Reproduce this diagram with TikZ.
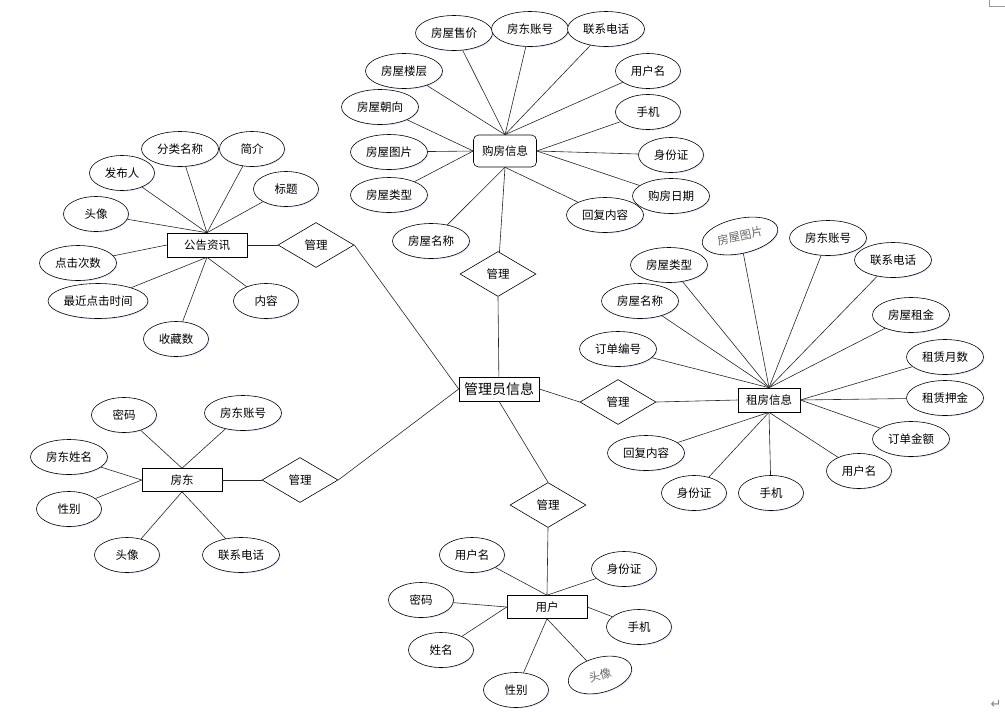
\documentclass[tikz,border=0pt]{standalone}
\usepackage{fontspec}
\setmainfont{Noto Sans CJK SC}
\newfontfamily\symfont{DejaVu Sans}
\usetikzlibrary{shapes.geometric,shadows}
\begin{document}
\begin{tikzpicture}[x=1pt,y=-1pt,
    line width=0.6pt,
    every node/.style={font=\fontsize{11.5}{13}\selectfont},
    attr/.style={ellipse,draw,fill=white,inner sep=0pt,minimum width=65pt,minimum height=35pt,
      drop shadow={shadow xshift=1pt,shadow yshift=-1pt,fill=blue!30,opacity=.35}},
    attrw/.style={attr,minimum width=77pt},
    entity/.style={rectangle,draw,fill=white,inner sep=0pt,minimum width=80pt,minimum height=24pt},
    relation/.style={diamond,draw,fill=white,inner sep=0pt,minimum width=76pt,minimum height=45pt}]
  \useasboundingbox (0,0) rectangle (1005,716);
  \draw
    (499,389) node[entity,font=\fontsize{14}{16}\selectfont] (gly){管理员信息}
    (505,151) node[entity,rounded corners=5pt,minimum width=63pt,minimum height=32pt] (gf){购房信息}
    (769,400) node[entity,minimum width=62pt] (zf){租房信息}
    (207,245) node[entity] (gg){公告资讯}
    (182,480) node[entity,minimum height=23pt] (fd){房东}
    (547,607) node[entity,minimum height=23pt] (yh){用户}
    (498,274) node[relation] (gfgl){管理}
    (618,402) node[relation] (zfgl){管理}
    (316,245) node[relation] (gggl){管理}
    (300,480) node[relation] (fdgl){管理}
    (548,505) node[relation] (yhgl){管理};
  \draw
    (454,33) node[attrw] (gf1){房屋售价}
    (530,29) node[attrw] (gf2){房东账号}
    (606,29) node[attrw] (gf3){联系电话}
    (404,71) node[attrw] (gf4){房屋楼层}
    (380,107) node[attrw] (gf5){房屋朝向}
    (389,152) node[attrw] (gf6){房屋图片}
    (389,195) node[attrw] (gf7){房屋类型}
    (431,241) node[attrw] (gf8){房屋名称}
    (605,215) node[attrw] (gf9){回复内容}
    (671,196) node[attrw] (gf10){购房日期}
    (671,155) node[attr] (gf11){身份证}
    (648,112) node[attr] (gf12){手机}
    (648,71) node[attr] (gf13){用户名};
  \draw
    (740,236) node[attrw,rotate=12,text=black!60] (zf1){房屋图片}
    (828,238) node[attrw] (zf2){房东账号}
    (893,260) node[attrw] (zf3){联系电话}
    (669,265) node[attrw] (zf4){房屋类型}
    (640,301) node[attrw] (zf5){房屋名称}
    (911,315) node[attrw] (zf6){房屋租金}
    (618,349) node[attrw] (zf7){订单编号}
    (945,357) node[attrw] (zf8){租赁月数}
    (945,398) node[attrw] (zf9){租赁押金}
    (911,439) node[attrw] (zf10){订单金额}
    (859,471) node[attr] (zf11){用户名}
    (771,493) node[attr] (zf12){手机}
    (694,493) node[attr] (zf13){身份证}
    (646,453) node[attrw] (zf14){回复内容};
  \draw
    (180,149) node[attrw] (gg1){分类名称}
    (252,149) node[attr] (gg2){简介}
    (122,173) node[attr] (gg3){发布人}
    (286,189) node[attr] (gg4){标题}
    (96,214) node[attr] (gg5){头像}
    (78,263) node[attrw] (gg6){点击次数}
    (98,301) node[attr,minimum width=100pt] (gg7){最近点击时间}
    (176,339) node[attr] (gg8){收藏数}
    (266,301) node[attr] (gg9){内容};
  \draw
    (124,415) node[attr] (fd1){密码}
    (243,413) node[attrw] (fd2){房东账号}
    (69,457) node[attrw] (fd3){房东姓名}
    (69,509) node[attr] (fd4){性别}
    (127,555) node[attr] (fd5){头像}
    (241,555) node[attrw] (fd6){联系电话};
  \draw
    (472,555) node[attr] (yh1){用户名}
    (624,569) node[attr] (yh2){身份证}
    (421,600) node[attr] (yh3){密码}
    (441,650) node[attr] (yh4){姓名}
    (639,627) node[attr] (yh5){手机}
    (516,690) node[attr] (yh6){性别}
    (600,675) node[attr,rotate=15,text=black!60] (yh7){头像};
  \begin{scope}[-,black!85]
    \draw (gly) to (gfgl.south);
    \draw (gfgl) to (gf.south);
    \draw (gly.east) to (zfgl.west);
    \draw (zfgl.east) to (zf.west);
    \draw (gly.west) to (gggl.east);
    \draw (gggl.west) to (gg.east);
    \draw (gly.west) to (fdgl.east);
    \draw (fdgl.west) to (fd.east);
    \draw (gly.south) to (yhgl.north);
    \draw (yhgl.south) to (yh.north);
    \draw (gf1) to (gf.north);
    \draw (gf2) to (gf.north);
    \draw (gf3) to (gf.north);
    \draw (gf4) to (gf.north);
    \draw (gf13) to (gf.north);
    \draw (gf5) to (gf.west);
    \draw (gf6) to (gf.west);
    \draw (gf7) to (gf.west);
    \draw (gf8) to (gf.south);
    \draw (gf9) to (gf.south);
    \draw (gf10) to (gf.east);
    \draw (gf11) to (gf.east);
    \draw (gf12) to (gf.east);
    \draw (zf1) to (zf.north);
    \draw (zf2) to (zf.north);
    \draw (zf3) to (zf.north);
    \draw (zf4) to (zf.north);
    \draw (zf5) to (zf.north);
    \draw (zf6) to (zf.north);
    \draw (zf7) to (zf.north);
    \draw (zf8) to (zf.east);
    \draw (zf9) to (zf.east);
    \draw (zf10) to (zf.east);
    \draw (zf11) to (zf.south);
    \draw (zf12) to (zf.south);
    \draw (zf13) to (zf.south);
    \draw (zf14) to (zf.south);
    \draw (gg1) to (gg.north);
    \draw (gg2) to (gg.north);
    \draw (gg3) to (gg.north);
    \draw (gg4) to (gg.north);
    \draw (gg5) to (gg.north);
    \draw (gg6) to (gg.west);
    \draw (gg7) to (gg.south);
    \draw (gg8) to (gg.south);
    \draw (gg9) to (gg.south);
    \draw (fd1) to (fd.north);
    \draw (fd2) to (fd.north);
    \draw (fd3) to (fd.west);
    \draw (fd4) to (fd.west);
    \draw (fd5) to (fd.south);
    \draw (fd6) to (fd.south);
    \draw (yh1) to (yh.north);
    \draw (yh2) to (yh.north);
    \draw (yh3) to (yh.west);
    \draw (yh4) to (yh.west);
    \draw (yh5) to (yh.east);
    \draw (yh6) to (yh.south);
    \draw (yh7) to (yh.south);
  \end{scope}
  \draw[black!40] (989,0) -- (989,6) -- (1005,6);
  \node[text=black!50,font=\symfont\fontsize{13}{13}\selectfont] (ret) at (996,704) {↵};
\end{tikzpicture}
\end{document}
